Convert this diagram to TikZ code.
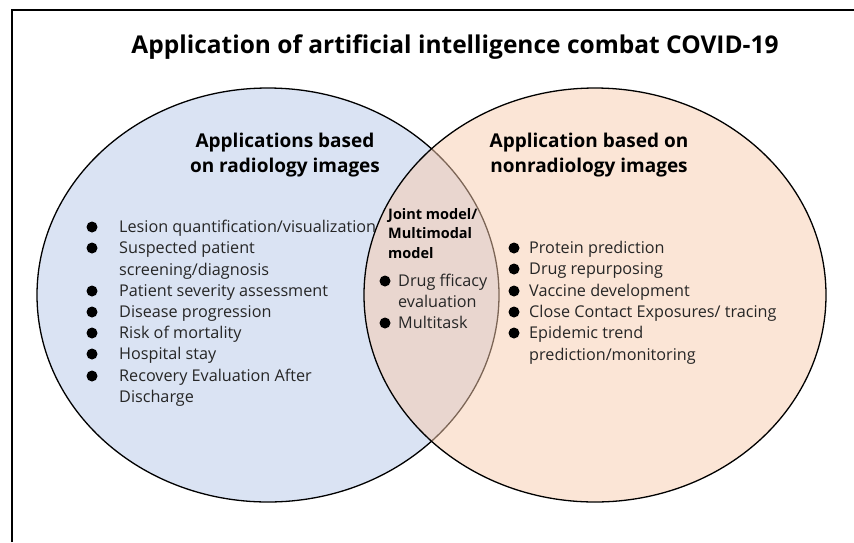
\documentclass[tikz,border=0pt]{standalone}
\usepackage{fontspec}
\setmainfont{Open Sans}
\usetikzlibrary{shapes.geometric}

\definecolor{radioblue}{HTML}{DAE3F3}
\definecolor{nonradioorange}{HTML}{F8CBAD}
\definecolor{inktext}{HTML}{262626}

\begin{document}
\begin{tikzpicture}[x=1pt,y=-1pt,
        set ellipse/.style={ellipse,draw=black,line width=1.3pt,
           minimum width=462pt,minimum height=414pt,inner sep=0pt},
        title text/.style={font=\fontsize{24.5}{28}\selectfont\bfseries},
        head text/.style={font=\fontsize{19}{25}\selectfont\bfseries,align=center},
        joint text/.style={anchor=base west,inner sep=0pt,
           font=\fontsize{14.5}{16}\selectfont\bfseries},
        item text/.style={anchor=base west,inner sep=0pt,text=inktext,
           font=\fontsize{16.2}{18}\selectfont},
        dot/.style={circle,fill=black,inner sep=0pt,minimum size=11pt},
    ]
    \useasboundingbox (0,0) rectangle (854,542);
    \draw[line width=1.5pt] (12,542) -- (12,10) -- (854,10);

    % the two sets
    \node[set ellipse,fill=radioblue] (radio) at (268,295) {};
    \node[set ellipse,fill=nonradioorange,fill opacity=0.5] (nonradio) at (595,295) {};

    \node[title text] (title) at (455,47) {Application of artificial intelligence combat COVID-19};
    \node[head text] (radiohead) at (285,155) {Applications based\\on radiology images};
    \node[head text] (nonradiohead) at (589,155) {Application based on\\nonradiology images};

    % radiology images
    \node[item text] (r1) at (119,232) {Lesion quantification/visualization};
    \node[item text] (r2) at (119,253) {Suspected patient};
    \node[item text] (r2b) at (119,275) {screening/diagnosis};
    \node[item text] (r3) at (119,296) {Patient severity assessment};
    \node[item text] (r4) at (119,317) {Disease progression};
    \node[item text] (r5) at (119,338) {Risk of mortality};
    \node[item text] (r6) at (119,359) {Hospital stay};
    \node[item text] (r7) at (119,381) {Recovery Evaluation After};
    \node[item text] (r7b) at (119,402) {Discharge};
    \foreach \y/\n in {227/1,248/2,291/3,312/4,333/5,354/6,376/7}
        \node[dot] (rdot\n) at (92,\y) {};

    % joint model
    \node[joint text] (j1) at (388,219) {Joint model/};
    \node[joint text] (j2) at (388,238) {Multimodal};
    \node[joint text] (j3) at (388,258) {model};
    \node[item text] (m1) at (398,286) {Drug fficacy};
    \node[item text] (m1b) at (398,307) {evaluation};
    \node[item text] (m2) at (398,328) {Multitask};
    \foreach \y/\n in {281/1,323/2}
        \node[dot] (mdot\n) at (385,\y) {};

    % nonradiology images
    \node[item text] (n1) at (529,253) {Protein prediction};
    \node[item text] (n2) at (529,274) {Drug repurposing};
    \node[item text] (n3) at (529,296) {Vaccine development};
    \node[item text] (n4) at (529,317) {Close Contact Exposures/ tracing};
    \node[item text] (n5) at (529,338) {Epidemic trend};
    \node[item text] (n5b) at (529,360) {prediction/monitoring};
    \foreach \y/\n in {248/1,269/2,291/3,312/4,333/5}
        \node[dot] (ndot\n) at (514,\y) {};
\end{tikzpicture}
\end{document}
